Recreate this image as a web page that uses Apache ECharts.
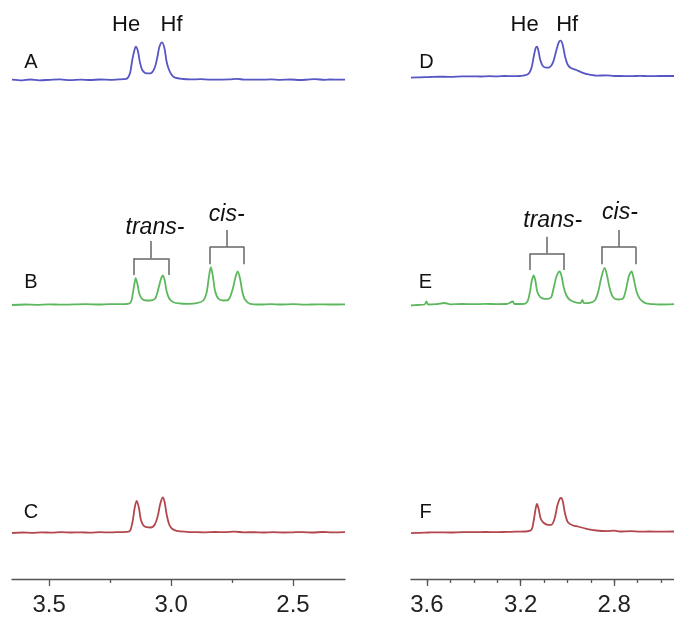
<!DOCTYPE html>
<html>
<head>
<meta charset="utf-8">
<script src="https://cdn.jsdelivr.net/npm/echarts@6/dist/echarts.min.js"></script>
<style>
  html, body { margin: 0; padding: 0; background: #fff; }
  #chart { width: 674px; height: 617px; }
</style>
</head>
<body>
<div id="chart"></div>
<script>
// 1H NMR traces, chemical shift (ppm) vs. relative intensity above baseline.
// Left column: spectra A, B, C.  Right column: spectra D, E, F.
const spectrumA = [
  [3.652,0.3],[3.61,-0.4],[3.578,0.5],[3.54,-0.3],[3.496,0.2],[3.455,0.6],[3.414,-0.2],[3.37,0.4],
  [3.332,0],[3.29,0.5],[3.25,0.2],[3.215,0.6],[3.195,0.8],[3.18,1.5],[3.168,7],[3.159,20],
  [3.150,30],[3.145,33.3],[3.136,29],[3.127,17],[3.118,10],[3.100,6.7],[3.086,6.7],[3.068,11.7],
  [3.056,23],[3.048,33],[3.037,37.7],[3.027,31.7],[3.018,18],[3.008,10],[2.997,5],[2.984,2.3],
  [2.951,1],[2.92,0.6],[2.881,0.8],[2.84,0.3],[2.799,0.4],[2.76,0.6],[2.730,1.1],[2.70,0.4],
  [2.635,0.3],[2.59,0.6],[2.553,0.2],[2.51,0.5],[2.471,0],[2.44,0.4],[2.410,0.8],[2.37,0.2],
  [2.348,0.5],[2.31,0.3],[2.287,0.4]
];
const spectrumB = [
  [3.652,-0.5],[3.60,0],[3.55,-0.3],[3.50,0.2],[3.45,-0.2],[3.40,0.1],[3.35,0.3],[3.30,0],
  [3.25,0.4],[3.21,0.3],[3.182,0.5],[3.165,2.3],[3.157,10.7],[3.150,20.7],[3.145,26.3],[3.138,20.7],
  [3.130,10.7],[3.119,5.7],[3.100,4],[3.086,4],[3.066,5.7],[3.052,15.7],[3.042,25],[3.034,29],
  [3.026,24],[3.018,13],[3.007,5.7],[2.991,2.3],[2.963,1],[2.929,0.7],[2.895,1.3],[2.868,4],
  [2.854,12.3],[2.845,27.3],[2.837,37.3],[2.829,29],[2.820,14],[2.806,5.7],[2.786,4],[2.765,4.7],
  [2.747,15.7],[2.736,27.3],[2.727,33],[2.717,25.7],[2.708,13],[2.697,5],[2.676,0.7],[2.635,0],
  [2.59,0.4],[2.55,0],[2.50,0.3],[2.45,-0.2],[2.40,0.2],[2.35,0],[2.287,0.2]
];
const spectrumC = [
  [3.652,-0.5],[3.61,0],[3.57,-0.3],[3.53,0.2],[3.49,-0.2],[3.45,0.3],[3.41,0],[3.37,0.2],
  [3.33,-0.2],[3.29,0.3],[3.25,0.1],[3.21,0.4],[3.18,0.6],[3.168,1.7],[3.157,11.7],[3.149,25],
  [3.141,31.7],[3.132,25],[3.124,13],[3.114,7.3],[3.100,5.3],[3.083,5],[3.066,8.3],[3.053,18],
  [3.045,28],[3.034,35],[3.026,30],[3.018,18],[3.008,8.3],[2.997,4],[2.977,1.7],[2.936,0.7],
  [2.90,0.4],[2.86,0.2],[2.82,0.5],[2.78,0.3],[2.74,0.8],[2.70,0.2],[2.66,0.3],[2.62,0],
  [2.58,0.3],[2.54,0],[2.50,0.2],[2.46,0.4],[2.42,0],[2.38,0.5],[2.34,0.1],[2.287,0.3]
];
const spectrumD = [
  [3.668,-0.7],[3.63,-0.3],[3.589,0],[3.55,0.3],[3.504,0.2],[3.45,0.6],[3.405,0.7],[3.37,0.5],
  [3.333,0.8],[3.30,0.6],[3.268,1],[3.23,0.8],[3.204,1],[3.169,2.7],[3.154,8.7],[3.144,20.3],
  [3.136,28.7],[3.130,30.3],[3.123,25.3],[3.116,17],[3.105,11],[3.090,9.3],[3.076,9.7],[3.062,14.3],
  [3.047,27],[3.037,34.7],[3.029,36.3],[3.020,32],[3.010,20.3],[2.998,12],[2.983,8.7],[2.962,7],
  [2.940,4.7],[2.919,3],[2.876,1.3],[2.833,1.7],[2.80,1],[2.776,1],[2.73,0.8],[2.691,1.2],
  [2.65,0.8],[2.605,1],[2.545,1]
];
const spectrumE = [
  [3.668,-1],[3.64,-0.5],[3.61,0],[3.602,3],[3.595,0],[3.56,0.3],[3.525,1.5],[3.50,0.2],
  [3.45,0.5],[3.40,0.3],[3.35,0.6],[3.30,0.4],[3.26,0.5],[3.233,3],[3.226,0.5],[3.183,0.7],
  [3.169,4],[3.159,14],[3.152,24],[3.144,29],[3.137,24],[3.129,13],[3.116,7.3],[3.097,5.7],
  [3.083,5.7],[3.069,7.3],[3.058,17.3],[3.047,28],[3.033,33],[3.025,28.3],[3.016,17.3],[3.004,9],
  [2.990,4.7],[2.969,2.3],[2.945,1.3],[2.936,4.7],[2.930,1.3],[2.905,1.7],[2.883,4],[2.869,12.3],
  [2.855,27.3],[2.841,36.7],[2.831,29],[2.819,15.7],[2.805,7.3],[2.784,5],[2.762,6.3],[2.748,17.3],
  [2.737,29],[2.726,33],[2.717,25.7],[2.705,13],[2.691,5.7],[2.670,1.7],[2.634,0.3],[2.605,0],
  [2.545,0.3]
];
const spectrumF = [
  [3.668,-0.7],[3.63,-0.3],[3.59,0],[3.55,0.2],[3.50,0],[3.45,0.4],[3.40,0.3],[3.35,0.5],
  [3.30,0.4],[3.26,0.6],[3.22,0.8],[3.176,1],[3.154,2.7],[3.144,12],[3.136,23.7],[3.130,28.7],
  [3.123,23.7],[3.114,13.7],[3.102,9.7],[3.083,7.7],[3.069,7.7],[3.055,13.7],[3.043,27],[3.033,33.7],
  [3.026,34.7],[3.019,30.3],[3.010,18.7],[2.998,10.3],[2.976,7],[2.955,6],[2.919,3.7],[2.876,2],
  [2.833,1.3],[2.80,1.8],[2.776,1],[2.73,1.4],[2.69,0.8],[2.65,1],[2.60,0.8],[2.545,1]
];

// Shift axis ranges (ppm, high field to the right) and tick positions
const leftRange = [2.287, 3.652];
const rightRange = [2.545, 3.668];
const leftMajorTicks = [3.5, 3.0, 2.5];
const leftMinorTicks = [3.25, 2.75];
const rightMajorTicks = [3.6, 3.2, 2.8];
const rightMinorTicks = [3.6, 3.5, 3.4, 3.3, 3.2, 3.1, 3.0, 2.9, 2.8, 2.7, 2.6];

const FONT = '"Liberation Sans", Arial, Helvetica, sans-serif';
const BLUE = '#5656c4', GREEN = '#5db85d', RED = '#b3474e', BRACKET = '#666666';

const panels = {
  left:  { left: 12,  right: 329, range: leftRange,  axisBottom: 580, major: leftMajorTicks,  minor: leftMinorTicks },
  right: { left: 411, right: 0,   range: rightRange, axisBottom: 582, major: rightMajorTicks, minor: rightMinorTicks }
};

// One stacked trace per row; baseline is the pixel row of zero intensity
const traces = [
  { name: 'A', data: spectrumA, panel: 'left',  baseline: 80,    yMax: 70,  color: BLUE,  letterAt: [3.574, 18] },
  { name: 'B', data: spectrumB, panel: 'left',  baseline: 304.5, yMax: 100, color: GREEN, letterAt: [3.574, 22.5] },
  { name: 'C', data: spectrumC, panel: 'left',  baseline: 532.5, yMax: 50,  color: RED,   letterAt: [3.574, 20.5] },
  { name: 'D', data: spectrumD, panel: 'right', baseline: 77,    yMax: 70,  color: BLUE,  letterAt: [3.602, 15] },
  { name: 'E', data: spectrumE, panel: 'right', baseline: 304.5, yMax: 100, color: GREEN, letterAt: [3.606, 22.5] },
  { name: 'F', data: spectrumF, panel: 'right', baseline: 532.5, yMax: 50,  color: RED,   letterAt: [3.606, 20.5] }
];

// Peak assignments (text placed in the trace's own ppm / intensity frame)
const peakLabels = {
  A: [{ text: 'He', at: [3.184, 55] }, { text: 'Hf', at: [2.998, 55] }],
  D: [{ text: 'He', at: [3.183, 52] }, { text: 'Hf', at: [3.001, 52] }]
};
// Isomer brackets: feet span, foot/bar/stem heights, italic caption
const brackets = {
  B: [
    { text: 'trans-', from: 3.152, to: 3.011, foot: 29.5, bar: 46.2, stem: 63.5, textAt: [3.066, 76.5] },
    { text: 'cis-',   from: 2.840, to: 2.700, foot: 40.2, bar: 57.8, stem: 74.5, textAt: [2.772, 89.5] }
  ],
  E: [
    { text: 'trans-', from: 3.159, to: 3.015, foot: 34.5, bar: 51.2, stem: 67.8, textAt: [3.063, 83.5] },
    { text: 'cis-',   from: 2.855, to: 2.708, foot: 40.2, bar: 57.8, stem: 74.5, textAt: [2.776, 91.5] }
  ]
};

const grid = [], xAxis = [], yAxis = [], series = [];

traces.forEach((t, i) => {
  const p = panels[t.panel];
  grid.push({ left: p.left, right: p.right, top: t.baseline - t.yMax, height: t.yMax + 10 });
  xAxis.push({ type: 'value', gridIndex: i, min: p.range[0], max: p.range[1], inverse: true, show: false });
  yAxis.push({ type: 'value', gridIndex: i, min: -10, max: t.yMax, show: false });

  const points = [{
    coord: t.letterAt, symbol: 'circle', symbolSize: 0,
    label: { show: true, position: 'inside', formatter: t.name, fontFamily: FONT, fontSize: 20, color: '#111' }
  }];
  (peakLabels[t.name] || []).forEach(l => points.push({
    coord: l.at, symbol: 'circle', symbolSize: 0,
    label: { show: true, position: 'inside', formatter: l.text, fontFamily: FONT, fontSize: 22, color: '#111' }
  }));
  const lines = [];
  (brackets[t.name] || []).forEach(b => {
    const mid = (b.from + b.to) / 2;
    lines.push([{ coord: [b.from, b.foot] }, { coord: [b.from, b.bar] }]);
    lines.push([{ coord: [b.to, b.foot] }, { coord: [b.to, b.bar] }]);
    lines.push([{ coord: [b.from, b.bar] }, { coord: [b.to, b.bar] }]);
    lines.push([{ coord: [mid, b.bar] }, { coord: [mid, b.stem] }]);
    points.push({
      coord: b.textAt, symbol: 'circle', symbolSize: 0,
      label: { show: true, position: 'inside', formatter: b.text, fontFamily: FONT, fontSize: 23, fontStyle: 'italic', color: '#111' }
    });
  });

  series.push({
    type: 'line',
    name: t.name,
    xAxisIndex: i,
    yAxisIndex: i,
    data: t.data,
    showSymbol: false,
    symbol: 'none',
    smooth: 0.3,
    clip: false,
    silent: true,
    lineStyle: { color: t.color, width: 1.8 },
    markPoint: { silent: true, data: points },
    markLine: {
      silent: true, symbol: ['none', 'none'],
      label: { show: false },
      lineStyle: { color: BRACKET, width: 1.5, type: 'solid' },
      emphasis: { disabled: true },
      data: lines
    }
  });
});

// Shared chemical-shift axes under each column
['left', 'right'].forEach(key => {
  const p = panels[key];
  const g = grid.length;
  grid.push({ left: p.left, right: p.right, top: p.axisBottom - 20, height: 20 });
  yAxis.push({ type: 'value', gridIndex: g, min: 0, max: 1, show: false });
  xAxis.push({
    type: 'value', gridIndex: g, position: 'bottom', min: p.range[0], max: p.range[1], inverse: true,
    splitLine: { show: false },
    axisLine: { show: true, lineStyle: { color: '#555', width: 1.3 } },
    axisTick: { show: true, length: 7, customValues: p.major, lineStyle: { color: '#555', width: 1.3 } },
    axisLabel: {
      show: true, customValues: p.major, margin: 14, fontFamily: FONT, fontSize: 24, color: '#222',
      formatter: v => v.toFixed(1)
    }
  });
  xAxis.push({
    type: 'value', gridIndex: g, position: 'bottom', offset: 0, min: p.range[0], max: p.range[1], inverse: true,
    splitLine: { show: false },
    axisLine: { show: false },
    axisTick: { show: true, length: 4, customValues: p.minor, lineStyle: { color: '#555', width: 1.3 } },
    axisLabel: { show: false }
  });
});

const chart = echarts.init(document.getElementById('chart'), null, { renderer: 'canvas' });
chart.setOption({
  animation: false,
  backgroundColor: '#ffffff',
  grid, xAxis, yAxis, series
});
</script>
</body>
</html>
